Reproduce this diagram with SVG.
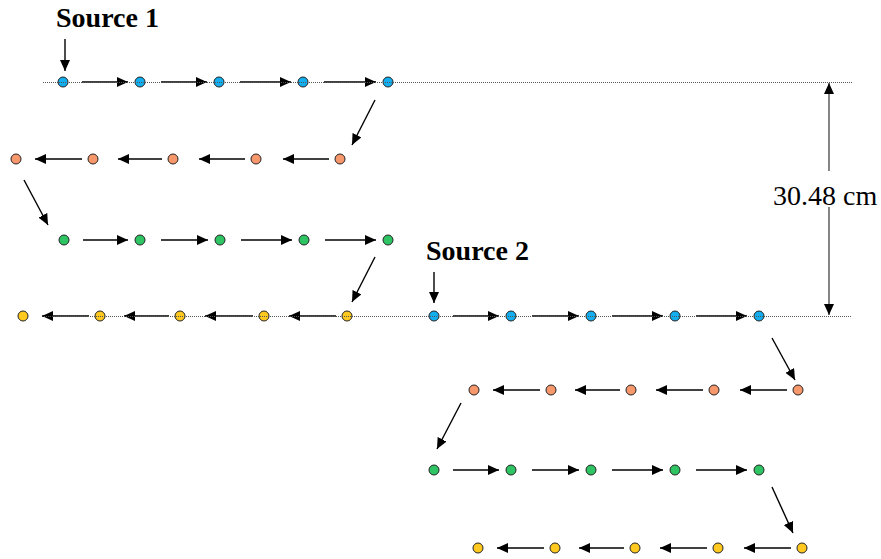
<svg xmlns="http://www.w3.org/2000/svg" width="881" height="559" viewBox="0 0 881 559">
<style>
.n{stroke:#222;stroke-width:1}
.b{fill:#12AEEF}.o{fill:#F7976C}.g{fill:#2EC463}.y{fill:#FFC91F}
.a{stroke:#000;stroke-width:1.4;fill:none;marker-end:url(#ah)}
.d{stroke:#444;stroke-width:1.3;fill:none;marker-end:url(#ah)}
.dot{stroke:#555;stroke-width:1;stroke-dasharray:1 1;fill:none}
.lb{font-family:"Liberation Serif","Times New Roman",serif;font-size:28px;font-weight:bold;fill:#000}
.dim{font-family:"Liberation Serif","Times New Roman",serif;font-size:28px;fill:#000}
</style>
<defs>
<marker id="ah" markerUnits="userSpaceOnUse" markerWidth="12" markerHeight="10" refX="11" refY="5" orient="auto">
<path d="M0,0 L11,5 L0,10 Z" fill="#000"/>
</marker>
</defs>
<g id="connectors">
<path class="a" d="M82,82H128"/><path class="a" d="M161,82H207"/><path class="a" d="M240,82H291"/><path class="a" d="M324,82H376"/>
<path class="a" d="M375,100L352,145"/>
<path class="a" d="M329,159H283"/><path class="a" d="M245,159H199"/><path class="a" d="M162,159H118"/><path class="a" d="M82,159H35"/>
<path class="a" d="M24,180L48,225"/>
<path class="a" d="M83,240H128"/><path class="a" d="M161,240H208"/><path class="a" d="M241,240H292"/><path class="a" d="M325,240H376"/>
<path class="a" d="M375,257L352,302"/>
<path class="a" d="M336,316H289"/><path class="a" d="M253,316H205"/><path class="a" d="M169,316H124"/><path class="a" d="M89,316H42"/>
<path class="a" d="M453,316H499"/><path class="a" d="M532,316H579"/><path class="a" d="M612,316H663"/><path class="a" d="M696,316H747"/>
<path class="a" d="M772,338L795,380"/>
<path class="a" d="M787,390H740"/><path class="a" d="M703,390H656"/><path class="a" d="M620,390H575"/><path class="a" d="M540,390H493"/>
<path class="a" d="M461,403L437,449"/>
<path class="a" d="M453,470H499"/><path class="a" d="M532,470H579"/><path class="a" d="M612,470H663"/><path class="a" d="M696,470H747"/>
<path class="a" d="M772,487L793,533"/>
<path class="a" d="M791,548H744"/><path class="a" d="M707,548H660"/><path class="a" d="M624,548H579"/><path class="a" d="M544,548H497"/>
<path class="a" d="M65,39V71"/>
<path class="a" d="M434,272V303"/>
<path class="d" d="M829,171V83"/>
<path class="d" d="M829,207V315"/>
</g>
<g id="row1">
<g id="s1-b1"><circle class="n b" cx="63" cy="82" r="5"/></g>
<g id="s1-b2"><circle class="n b" cx="140" cy="82" r="5"/></g>
<g id="s1-b3"><circle class="n b" cx="219" cy="82" r="5"/></g>
<g id="s1-b4"><circle class="n b" cx="303" cy="82" r="5"/></g>
<g id="s1-b5"><circle class="n b" cx="388" cy="82" r="5"/></g>
</g>
<g id="row2">
<g id="s1-o1"><circle class="n o" cx="340" cy="159" r="5"/></g>
<g id="s1-o2"><circle class="n o" cx="256" cy="159" r="5"/></g>
<g id="s1-o3"><circle class="n o" cx="173" cy="159" r="5"/></g>
<g id="s1-o4"><circle class="n o" cx="93" cy="159" r="5"/></g>
<g id="s1-o5"><circle class="n o" cx="16" cy="159" r="5"/></g>
</g>
<g id="row3">
<g id="s1-g1"><circle class="n g" cx="64" cy="240" r="5"/></g>
<g id="s1-g2"><circle class="n g" cx="140" cy="240" r="5"/></g>
<g id="s1-g3"><circle class="n g" cx="220" cy="240" r="5"/></g>
<g id="s1-g4"><circle class="n g" cx="304" cy="240" r="5"/></g>
<g id="s1-g5"><circle class="n g" cx="388" cy="240" r="5"/></g>
</g>
<g id="row4">
<g id="s1-y1"><circle class="n y" cx="347" cy="316" r="5"/></g>
<g id="s1-y2"><circle class="n y" cx="264" cy="316" r="5"/></g>
<g id="s1-y3"><circle class="n y" cx="180" cy="316" r="5"/></g>
<g id="s1-y4"><circle class="n y" cx="100" cy="316" r="5"/></g>
<g id="s1-y5"><circle class="n y" cx="23" cy="316" r="5"/></g>
<g id="s2-b1"><circle class="n b" cx="434" cy="316" r="5"/></g>
<g id="s2-b2"><circle class="n b" cx="511" cy="316" r="5"/></g>
<g id="s2-b3"><circle class="n b" cx="591" cy="316" r="5"/></g>
<g id="s2-b4"><circle class="n b" cx="675" cy="316" r="5"/></g>
<g id="s2-b5"><circle class="n b" cx="759" cy="316" r="5"/></g>
</g>
<g id="row5">
<g id="s2-o1"><circle class="n o" cx="798" cy="390" r="5"/></g>
<g id="s2-o2"><circle class="n o" cx="714" cy="390" r="5"/></g>
<g id="s2-o3"><circle class="n o" cx="631" cy="390" r="5"/></g>
<g id="s2-o4"><circle class="n o" cx="551" cy="390" r="5"/></g>
<g id="s2-o5"><circle class="n o" cx="474" cy="390" r="5"/></g>
</g>
<g id="row6">
<g id="s2-g1"><circle class="n g" cx="434" cy="470" r="5"/></g>
<g id="s2-g2"><circle class="n g" cx="511" cy="470" r="5"/></g>
<g id="s2-g3"><circle class="n g" cx="591" cy="470" r="5"/></g>
<g id="s2-g4"><circle class="n g" cx="675" cy="470" r="5"/></g>
<g id="s2-g5"><circle class="n g" cx="759" cy="470" r="5"/></g>
</g>
<g id="row7">
<g id="s2-y1"><circle class="n y" cx="802" cy="548" r="5"/></g>
<g id="s2-y2"><circle class="n y" cx="718" cy="548" r="5"/></g>
<g id="s2-y3"><circle class="n y" cx="635" cy="548" r="5"/></g>
<g id="s2-y4"><circle class="n y" cx="555" cy="548" r="5"/></g>
<g id="s2-y5"><circle class="n y" cx="478" cy="548" r="5"/></g>
</g>
<g id="guides">
<path class="dot" d="M43,82.5H852"/>
<path class="dot" d="M44,316.5H852"/>
</g>
<g id="labels">
<text class="lb" x="56" y="27">Source 1</text>
<text class="lb" x="426" y="260">Source 2</text>
<text class="dim" x="773" y="205">30.48 cm</text>
</g>
</svg>
